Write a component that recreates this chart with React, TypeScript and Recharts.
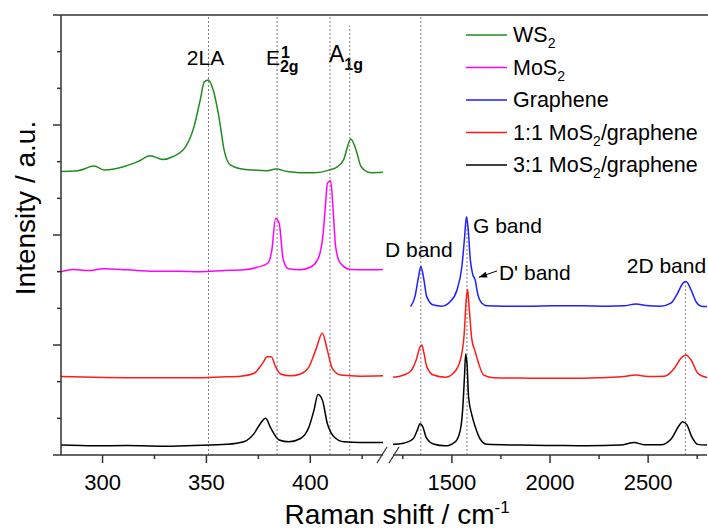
import React from 'react';
import { LineChart, Line, XAxis, YAxis, ReferenceLine, Legend } from 'recharts';

const FONT = '"Liberation Sans", Arial, sans-serif';
const AXIS = '#333';
const DOT = '#808080';

const GREEN = '#1e8c1e';
const MAGENTA = '#ff00ff';
const BLUE = '#1f1fff';
const RED = '#ff1a1a';
const BLACK = '#000000';

// Raman shift (cm-1), intensity (a.u., curves offset)
const ws2Low: [number, number][] = [
  [280, 7.73], [288, 7.75], [296, 7.88], [301, 7.77], [310, 7.86], [317, 8.0], [323, 8.16],
  [329, 8.06], [334, 8.14], [340, 8.41], [344, 8.95], [347, 9.68], [349, 10.18], [351, 10.23],
  [353, 10.0], [356, 9.23], [358.5, 8.32], [361.5, 7.91], [367, 7.8], [373, 7.77], [378.5, 7.75],
  [383.5, 7.8], [389, 7.73], [395, 7.7], [402, 7.7], [409, 7.77], [413, 7.86], [416, 8.05],
  [419.5, 8.62], [422, 8.32], [424.5, 7.86], [429, 7.7], [435, 7.71],
];

const mos2Low: [number, number][] = [
  [280, 5.0], [286, 5.06], [293, 5.03], [300.5, 5.08], [312, 5.05], [324.5, 5.01], [336, 5.01],
  [347, 5.0], [358.5, 5.03], [368, 5.05], [374.5, 5.12], [379.5, 5.23], [381.5, 5.59], [383.3, 6.45],
  [385, 6.32], [387, 5.32], [389.5, 5.08], [395, 5.05], [400, 5.12], [403.5, 5.32], [406, 5.95],
  [407.5, 6.95], [408.2, 7.41], [409.8, 7.48], [411, 6.68], [412.2, 5.68], [414.5, 5.23],
  [419.5, 5.06], [427.5, 5.05], [435, 5.06],
];

const mix11Low: [number, number][] = [
  [280, 2.14], [296, 2.12], [312, 2.11], [328, 2.11], [344, 2.11], [357, 2.13], [366.5, 2.15],
  [373, 2.23], [377, 2.5], [379.3, 2.68], [381.2, 2.68], [383.3, 2.41], [385.7, 2.21], [390.5, 2.16],
  [395.3, 2.21], [399.4, 2.41], [402.6, 2.86], [405.8, 3.32], [408.2, 2.86], [410.6, 2.36],
  [414.6, 2.18], [424, 2.15], [435, 2.16],
];

const mix31Low: [number, number][] = [
  [280, 0.27], [296, 0.25], [312, 0.26], [328, 0.24], [344, 0.26], [360, 0.29], [368, 0.36],
  [373, 0.59], [376, 0.86], [378.5, 1.0], [381, 0.73], [385, 0.41], [389.7, 0.36], [395.3, 0.45],
  [399.4, 0.77], [401.8, 1.23], [403.7, 1.65], [405.8, 1.5], [408.2, 0.86], [411.4, 0.5],
  [416.2, 0.36], [424, 0.34], [435, 0.34],
];

const grapheneHigh: [number, number][] = [
  [1290, 4.05], [1312, 4.32], [1330, 4.86], [1342, 5.14], [1355, 4.86], [1372, 4.32], [1406, 4.09],
  [1449, 4.06], [1491, 4.18], [1526, 4.5], [1551, 5.14], [1565, 5.95], [1574, 6.5], [1582, 6.23],
  [1594, 5.32], [1607, 4.91], [1619, 4.77], [1631, 4.41], [1653, 4.14], [1679, 4.07], [1764, 4.06],
  [1884, 4.06], [2020, 4.07], [2156, 4.07], [2293, 4.06], [2378, 4.07], [2438, 4.12], [2489, 4.08],
  [2565, 4.06], [2616, 4.14], [2650, 4.41], [2676, 4.68], [2693, 4.73], [2719, 4.5], [2744, 4.18],
  [2770, 4.06], [2800, 4.05],
];

const mix11High: [number, number][] = [
  [1200, 2.12], [1236, 2.15], [1287, 2.27], [1318, 2.59], [1335, 2.91], [1347, 3.0], [1358, 2.77],
  [1372, 2.41], [1406, 2.18], [1466, 2.12], [1508, 2.23], [1543, 2.59], [1563, 3.32], [1573, 4.23],
  [1580, 4.52], [1589, 3.95], [1602, 3.14], [1619, 2.82], [1636, 2.5], [1662, 2.18], [1713, 2.11],
  [1849, 2.1], [1986, 2.09], [2122, 2.09], [2258, 2.11], [2378, 2.14], [2438, 2.18], [2497, 2.14],
  [2582, 2.15], [2633, 2.36], [2667, 2.64], [2693, 2.73], [2719, 2.59], [2753, 2.23], [2800, 2.11],
];

const mix31High: [number, number][] = [
  [1200, 0.29], [1253, 0.32], [1304, 0.45], [1324, 0.68], [1338, 0.85], [1352, 0.77], [1369, 0.48],
  [1406, 0.3], [1466, 0.25], [1517, 0.36], [1543, 0.68], [1556, 1.32], [1565, 2.23], [1570, 2.75],
  [1577, 2.5], [1585, 1.59], [1602, 1.09], [1619, 0.77], [1645, 0.43], [1679, 0.29], [1849, 0.27],
  [2020, 0.26], [2190, 0.25], [2361, 0.27], [2429, 0.34], [2480, 0.28], [2565, 0.28], [2616, 0.43],
  [2654, 0.77], [2676, 0.91], [2698, 0.82], [2722, 0.5], [2753, 0.29], [2800, 0.27],
];

const lowTicks = [300, 325, 350, 375, 400, 425];
const highTicks = [1250, 1500, 1750, 2000, 2250, 2500, 2750];
const yTicks = [0, 1, 2, 3, 4, 5, 6, 7, 8, 9, 10, 11, 12];

// peak positions marked with dotted lines
const ws2Peaks = { la: 351, a1g: 419 };
const mos2Peaks = { e2g: 384, a1g: 409.5 };
const carbonPeaks = { d: 1342, g: 1577, dPrime: 1620, twoD: 2690 };

const legendItems = [
  { pre: 'WS', sub: '2', post: '', color: GREEN },
  { pre: 'MoS', sub: '2', post: '', color: MAGENTA },
  { pre: 'Graphene', sub: '', post: '', color: BLUE },
  { pre: '1:1 MoS', sub: '2', post: '/graphene', color: RED },
  { pre: '3:1 MoS', sub: '2', post: '/graphene', color: BLACK },
];

const pts = (arr: [number, number][]) => arr.map(([x, y]) => ({ x, y }));

const makeXTick = (step: number) => (props: any) => {
  const { x, y, payload } = props;
  const major = payload.value % step === 0;
  return (
    <g>
      <line x1={x} x2={x} y1={y} y2={y + (major ? 8 : 4)} stroke={AXIS} strokeWidth={1.5} />
      {major && (
        <text x={x} y={y + 35} textAnchor="middle" fontSize={22} fontFamily={FONT} fill="#000">
          {payload.value}
        </text>
      )}
    </g>
  );
};

const YTick = (props: any) => {
  const { x, y, payload } = props;
  const major = payload.value % 3 === 0;
  return <line x1={x - (major ? 8 : 4)} x2={x} y1={y} y2={y} stroke={AXIS} strokeWidth={1.5} />;
};

const txt = { fontFamily: FONT, fill: '#000' };

const LegendBox = () => (
  <svg width={248} height={180}>
    {legendItems.map((it, i) => {
      const y = 17 + i * 32.5;
      return (
        <g key={it.pre + i}>
          <line x1={6} x2={47} y1={y} y2={y} stroke={it.color} strokeWidth={1.5} />
          <text x={53} y={y + 7} fontSize={21.5} {...txt}>
            {it.pre}
            {it.sub && (
              <tspan fontSize={14} dy={6}>
                {it.sub}
              </tspan>
            )}
            {it.post && <tspan dy={it.sub ? -6 : 0}>{it.post}</tspan>}
          </text>
        </g>
      );
    })}
  </svg>
);

const dotted = { stroke: DOT, strokeDasharray: '2 2', strokeWidth: 1 };

export default function App() {
  const axisLine = { stroke: AXIS, strokeWidth: 1.5 };
  return (
    <div style={{ position: 'absolute', left: 0, top: 0, width: 708, height: 530, background: '#fff' }}>
      <svg width={708} height={530} style={{ position: 'absolute', left: 0, top: 0 }}>
        <line x1={61} x2={708} y1={15} y2={15} stroke={AXIS} strokeWidth={1.5} />
        <line x1={377} y1={463} x2={387} y2={447} stroke={AXIS} strokeWidth={1.3} />
        <line x1={389} y1={463} x2={399} y2={447} stroke={AXIS} strokeWidth={1.3} />
        <text x={397} y={524} textAnchor="middle" fontSize={28} {...txt}>
          Raman shift / cm
          <tspan fontSize={17} dy={-11}>-1</tspan>
        </text>
        <text x={35} y={208} transform="rotate(-90 35 208)" textAnchor="middle" fontSize={28} {...txt}>
          Intensity / a.u.
        </text>
      </svg>

      <div style={{ position: 'absolute', left: 0, top: 0 }}>
        <LineChart width={386} height={530} margin={{ top: 15, right: 3, bottom: 35, left: 0 }}>
          <XAxis
            type="number"
            dataKey="x"
            domain={[280, 435]}
            ticks={lowTicks}
            interval={0}
            tick={makeXTick(50)}
            tickLine={false}
            tickSize={0}
            tickMargin={0}
            height={40}
            axisLine={axisLine}
            allowDataOverflow
          />
          <YAxis
            type="number"
            domain={[0, 12]}
            ticks={yTicks}
            interval={0}
            tick={YTick}
            tickLine={false}
            tickSize={0}
            tickMargin={0}
            width={61}
            axisLine={axisLine}
          />
          <ReferenceLine
            x={ws2Peaks.la}
            {...dotted}
            label={(p: any) => (
              <text x={p.viewBox.x - 3} y={p.viewBox.y + 50} textAnchor="middle" fontSize={21} {...txt}>
                2LA
              </text>
            )}
          />
          <ReferenceLine
            x={mos2Peaks.e2g}
            {...dotted}
            label={(p: any) => (
              <text x={p.viewBox.x - 11} y={p.viewBox.y + 50} fontSize={21} {...txt}>
                E
                <tspan fontSize={16} fontWeight="bold" dx={1} dy={-7}>1</tspan>
                <tspan fontSize={16} fontWeight="bold" dx={-10} dy={14}>2g</tspan>
              </text>
            )}
          />
          <ReferenceLine
            x={mos2Peaks.a1g}
            {...dotted}
            label={(p: any) => (
              <text x={p.viewBox.x - 1} y={p.viewBox.y + 47} fontSize={23} {...txt}>
                A
                <tspan fontSize={16} fontWeight="bold" dx={0} dy={8}>1g</tspan>
              </text>
            )}
          />
          <ReferenceLine segment={[{ x: ws2Peaks.a1g, y: 0 }, { x: ws2Peaks.a1g, y: 11.7 }]} {...dotted} />
          <Line data={pts(ws2Low)} dataKey="y" name="WS2" type="monotone" stroke={GREEN} strokeWidth={1.5} dot={false} isAnimationActive={false} />
          <Line data={pts(mos2Low)} dataKey="y" name="MoS2" type="monotone" stroke={MAGENTA} strokeWidth={1.5} dot={false} isAnimationActive={false} />
          <Line data={pts(mix11Low)} dataKey="y" name="1:1" type="monotone" stroke={RED} strokeWidth={1.5} dot={false} isAnimationActive={false} />
          <Line data={pts(mix31Low)} dataKey="y" name="3:1" type="monotone" stroke={BLACK} strokeWidth={1.5} dot={false} isAnimationActive={false} />
        </LineChart>
      </div>

      <div style={{ position: 'absolute', left: 383, top: 0 }}>
        <LineChart width={325} height={530} margin={{ top: 15, right: 1, bottom: 35, left: 10 }}>
          <XAxis
            type="number"
            dataKey="x"
            domain={[1200, 2800]}
            ticks={highTicks}
            interval={0}
            tick={makeXTick(500)}
            tickLine={false}
            tickSize={0}
            tickMargin={0}
            height={40}
            axisLine={axisLine}
            allowDataOverflow
          />
          <YAxis hide type="number" domain={[0, 12]} />
          <ReferenceLine
            x={carbonPeaks.d}
            {...dotted}
            label={(p: any) => (
              <text x={p.viewBox.x - 2} y={p.viewBox.y + 242} textAnchor="middle" fontSize={21} {...txt}>
                D band
              </text>
            )}
          />
          <ReferenceLine
            segment={[{ x: carbonPeaks.g, y: 0 }, { x: carbonPeaks.g, y: 6.5 }]}
            {...dotted}
            label={(p: any) => (
              <text x={p.viewBox.x + 6} y={p.viewBox.y + 16} fontSize={21} {...txt}>
                G band
              </text>
            )}
          />
          <ReferenceLine
            segment={[{ x: carbonPeaks.twoD, y: 0 }, { x: carbonPeaks.twoD, y: 4.75 }]}
            {...dotted}
            label={(p: any) => (
              <text x={p.viewBox.x - 19} y={p.viewBox.y - 8} textAnchor="middle" fontSize={21} {...txt}>
                2D band
              </text>
            )}
          />
          <ReferenceLine
            segment={[{ x: carbonPeaks.dPrime + 110, y: 5.02 }, { x: carbonPeaks.dPrime + 18, y: 4.85 }]}
            stroke="#000"
            strokeWidth={1}
            label={(p: any) => {
              const hx = p.viewBox.x;
              const hy = p.viewBox.y + p.viewBox.height;
              const dx = 0.949;
              const dy = -0.316;
              const bx = hx + 8 * dx;
              const by = hy + 8 * dy;
              return (
                <g>
                  <polygon
                    points={`${hx},${hy} ${bx + 3 * 0.316},${by + 3 * 0.949} ${bx - 3 * 0.316},${by - 3 * 0.949}`}
                    fill="#000"
                  />
                  <text x={p.viewBox.x + 20} y={p.viewBox.y + 9} fontSize={21} {...txt}>
                    D' band
                  </text>
                </g>
              );
            }}
          />
          <Line data={pts(grapheneHigh)} dataKey="y" name="Graphene" type="monotone" stroke={BLUE} strokeWidth={1.5} dot={false} isAnimationActive={false} />
          <Line data={pts(mix11High)} dataKey="y" name="1:1 MoS2/graphene" type="monotone" stroke={RED} strokeWidth={1.5} dot={false} isAnimationActive={false} />
          <Line data={pts(mix31High)} dataKey="y" name="3:1 MoS2/graphene" type="monotone" stroke={BLACK} strokeWidth={1.5} dot={false} isAnimationActive={false} />
          <Legend
            layout="vertical"
            align="center"
            verticalAlign="middle"
            content={() => <LegendBox />}
            wrapperStyle={{ left: 77, top: 18, width: 248, height: 180 }}
          />
        </LineChart>
      </div>
    </div>
  );
}
